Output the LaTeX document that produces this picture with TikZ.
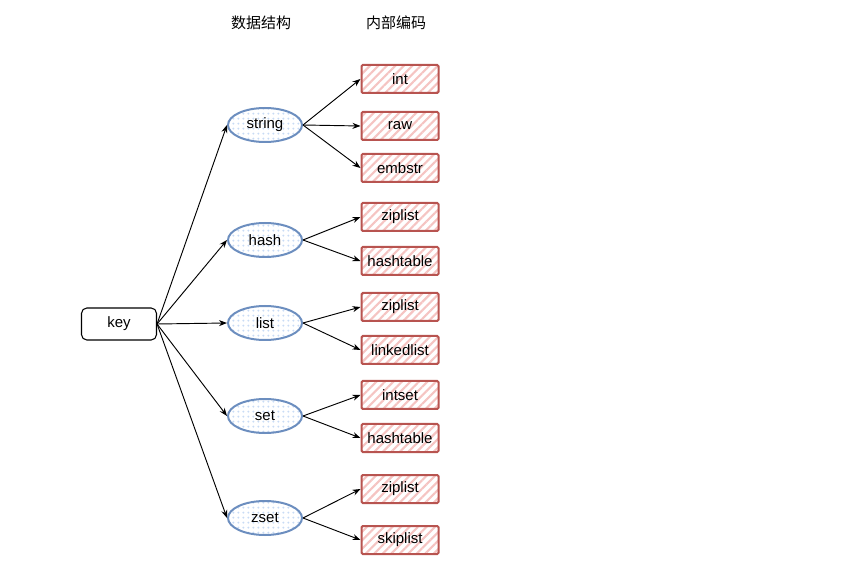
\documentclass[tikz,border=0pt]{standalone}
\usepackage{fontspec}
\setmainfont{Liberation Sans}
\newfontfamily\cjk{Noto Sans CJK SC}
\usetikzlibrary{arrows.meta}
\usetikzlibrary{shapes.geometric}
\usetikzlibrary{patterns.meta}
\definecolor{typeline}{HTML}{6C8EBF}
\definecolor{typefill}{HTML}{C9DBF5}
\definecolor{codeline}{HTML}{B85450}
\definecolor{codefill}{HTML}{F5C4C2}
\tikzset{
	keystyle/.style={rectangle,rounded corners=4pt,draw=black,line width=0.8pt,fill=white,minimum width=56.25pt,minimum height=24pt},
	typestyle/.style={ellipse,draw=typeline,line width=1.5pt,inner sep=0pt,minimum width=55.5pt,minimum height=25.5pt,
		pattern={Dots[radius=0.9pt,distance=4pt]},pattern color=typefill},
	codestyle/.style={rectangle,rounded corners=1pt,draw=codeline,line width=1.5pt,inner sep=0pt,minimum width=57.75pt,minimum height=21pt,
		pattern={Lines[angle=45,distance=4.5pt,line width=1.6pt]},pattern color=codefill},
	headstyle/.style={font=\cjk\fontsize{11.25}{13}\selectfont},
	linkstyle/.style={line width=0.7pt,-{Stealth[length=6pt,width=4.5pt]}}
}

\begin{document}
\begin{tikzpicture}[x=0.75pt,y=-0.75pt]
	\fontsize{11.25}{13}\selectfont
	\useasboundingbox (0,0) rectangle (856,580);
	\node[headstyle] (h1) at (261,23) {数据结构};
	\node[headstyle] (h2) at (396,23) {内部编码};
	\node[keystyle] (key) at (119,324) {key};
	\node[typestyle] (string) at (265,125) {string};
	\node[typestyle] (hash) at (265,240) {hash};
	\node[typestyle] (list) at (265,323) {list};
	\node[typestyle] (set) at (265,416) {set};
	\node[typestyle] (zset) at (265,518) {zset};
	\node[codestyle] (int) at (400,79) {int};
	\node[codestyle] (raw) at (400,126) {raw};
	\node[codestyle] (embstr) at (400,168) {embstr};
	\node[codestyle] (hziplist) at (400,217) {ziplist};
	\node[codestyle] (hhashtable) at (400,261) {hashtable};
	\node[codestyle] (lziplist) at (400,307) {ziplist};
	\node[codestyle] (linkedlist) at (400,350) {linkedlist};
	\node[codestyle] (intset) at (400,395) {intset};
	\node[codestyle] (shashtable) at (400,438) {hashtable};
	\node[codestyle] (zziplist) at (400,489) {ziplist};
	\node[codestyle] (skiplist) at (400,540) {skiplist};
	\draw[linkstyle] (key.east)--(string.west);
	\draw[linkstyle] (key.east)--(hash.west);
	\draw[linkstyle] (key.east)--(list.west);
	\draw[linkstyle] (key.east)--(set.west);
	\draw[linkstyle] (key.east)--(zset.west);
	\draw[linkstyle] (string.east)--(int.west);
	\draw[linkstyle] (string.east)--(raw.west);
	\draw[linkstyle] (string.east)--(embstr.west);
	\draw[linkstyle] (hash.east)--(hziplist.west);
	\draw[linkstyle] (hash.east)--(hhashtable.west);
	\draw[linkstyle] (list.east)--(lziplist.west);
	\draw[linkstyle] (list.east)--(linkedlist.west);
	\draw[linkstyle] (set.east)--(intset.west);
	\draw[linkstyle] (set.east)--(shashtable.west);
	\draw[linkstyle] (zset.east)--(zziplist.west);
	\draw[linkstyle] (zset.east)--(skiplist.west);
\end{tikzpicture}
\end{document}
